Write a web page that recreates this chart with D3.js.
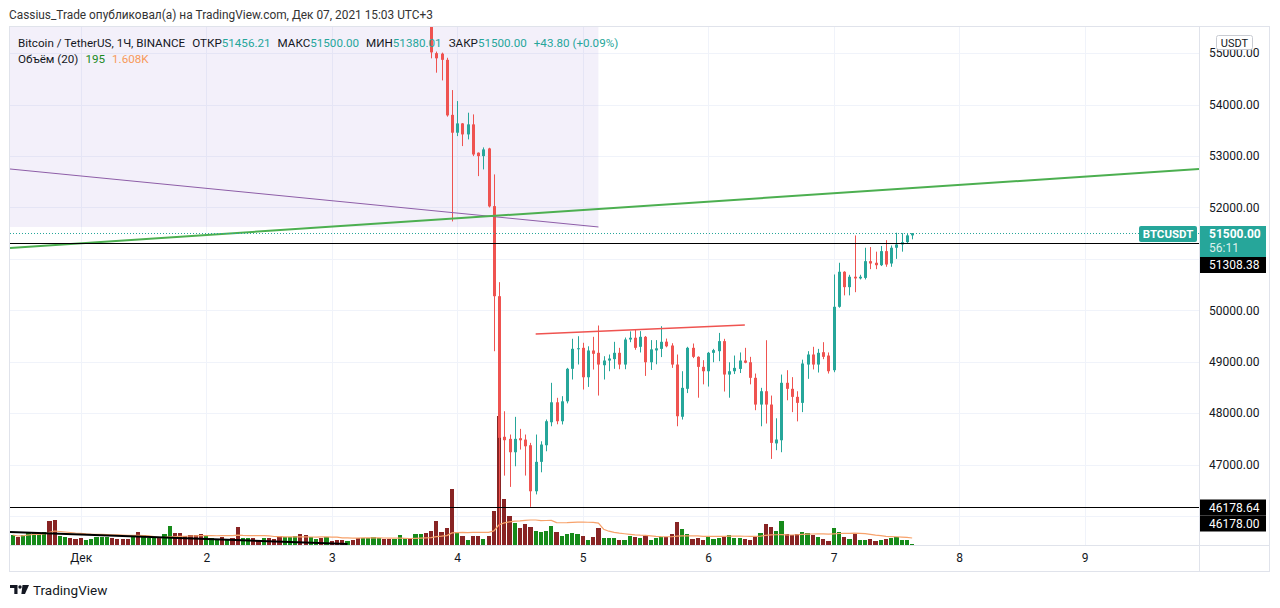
<!DOCTYPE html>
<html>
<head>
<meta charset="utf-8">
<script src="https://cdn.jsdelivr.net/npm/d3@7"></script>
<style>
  body { margin: 0; background: #fff; }
  svg { display: block; font-family: Roboto, "Liberation Sans", sans-serif; }
</style>
</head>
<body>
<svg id="chart" width="1280" height="608"></svg>
<script>
// hourly bars, first bar Nov 30 11:00 (chart time UTC+3, kept as plain UTC here)
const firstBar = Date.UTC(2021, 10, 30, 11);
const HOUR = 3600e3;

// volume per bar (BTC), index 0 .. 172
const volumes = [
  2150,1730,2120,2590,2810,2370,2780,5150,5390,1940, 1710,1520,1300,1480,1090,1310,1700,1740,1720,1500,
  1280,1310,1270,1730,2800,2160,1510,1490,1520,2380, 4090,2570,2600,1930,2140,2170,2360,1950,1490,1070,
  1710,1300,1500,3880,1510,1480,1520,1080,1500,1490, 1290,1940,1720,1700,1950,2370,2150,1730,1280,1510,
  1720,870,1060,1090,850,1080,1500,1520,1490,1710, 1500,1300,1280,1310,2140,1510,1490,2360,2390,2580,
  3010,5170,2790,3660,12040,2800,1930,1080,1950,1920, 1290,1940,7310,27740,9890,6240,4730,3650,4520,3870,
  3010,2790,3020,4080,2800,1930,2370,2580,2360,1940, 1070,1720,3660,1500,1510,1490,1080,1070,1940,1720,
  1500,1930,1090,1500,1710,1730,2370,4950,3440,2360, 1290,1510,1080,1720,1300,1500,1720,2150,1510,1490,
  1290,1080,1710,2580,4510,3880,3000,5160,2370,2150, 2360,2800,2570,2160,1720,1290,870,3660,2790,1720,
  1300,2370,1080,1070,1290,860,1080,1300,1500,1720, 1080,1070,195
];

// direction of the bars whose candles sit above the visible price range (index 0 .. 79)
const hiddenDir = ("uduuuuuddu" + "uddduuuuud" + "ddduduuudu" + "udddddduuu" +
                   "dudduuddud" + "dduuudduud" + "udddudduuu" + "udduuuduud").split("");

// visible candles [open, high, low, close], starting at bar index 80
const candleStart = 80;
const candles = [
  [55750,55900,54899,55015],[55000,55030,54620,54900],[54990,55010,54470,54870],[54870,54910,53765,53790],
  [53800,54282,51728,53453],[53453,54068,53387,53634],[53634,53640,53193,53420],[53420,53842,53323,53615],
  [53615,53809,52998,53030],[53064,53070,52609,52998],[52998,53167,52739,53128],[53147,53160,52000,52020],
  [52025,52642,49204,50274],[50274,50547,42000,47520],[47540,48037,46785,47474],[47500,47584,46566,47240],
  [47240,47928,46967,47500],[47512,47694,47292,47473],[47486,47584,46786,47356],[47376,47422,46178,46481],
  [46481,47584,46420,47053],[47053,47453,46850,47389],[47376,47876,47259,47843],[47823,48590,47745,48211],
  [48211,48298,47784,47843],[47843,48330,47780,48230],[48230,48880,48190,48862],[48862,49446,48654,49251],
  [49251,49496,48946,49262],[49270,49368,48459,48698],[48698,49300,48510,49218],[49218,49484,48848,49154],
  [49173,49704,48342,48945],[48932,49107,48654,49023],[49023,49140,48815,49062],[49050,49387,48862,49173],
  [49173,49270,48854,48945],[48945,49470,48854,49432],[49432,49590,49380,49466],[49466,49630,49232,49270],
  [49290,49595,49180,49484],[49484,49500,48724,48990],[48990,49420,48840,49240],[49220,49420,48950,49260],
  [49250,49690,49090,49387],[49390,49450,49280,49300],[49315,49360,48880,48945],[48945,49140,47745,47940],
  [47930,48815,47875,48492],[48473,49290,48390,49270],[49270,49354,49070,49095],[49095,49105,48300,48900],
  [48900,49030,48560,48815],[48815,49190,48517,49173],[49173,49250,48990,49225],[49205,49560,49010,49400],
  [49400,49445,48420,48751],[48750,48990,48300,48815],[48815,49120,48760,48880],[48860,49180,48780,49023],
  [49023,49270,48970,48980],[48990,49095,48560,48687],[48687,48770,48057,48167],[48167,48492,47745,48426],
  [48426,49418,47798,48167],[48167,48342,47110,47422],[47412,47900,47280,47487],[47473,48750,47240,48590],
  [48590,48835,48250,48473],[48473,48700,48020,48317],[48317,48426,47840,48200],[48200,49040,48020,48965],
  [48945,49205,48667,49140],[49140,49290,48850,48945],[48945,49250,48790,49173],[49185,49380,49050,49095],
  [49120,49180,48770,48815],[48835,50696,48796,50068],[50068,50924,50050,50749],[50749,50760,50290,50450],
  [50450,50690,50290,50652],[50652,51455,50352,50620],[50620,50690,50600,50652],[50630,51216,50600,50955],
  [50955,51230,50800,50910],[50924,51140,50800,50877],[50877,51250,50860,51150],[51150,51364,50846,50890],
  [50910,51260,50846,51216],[51216,51508,51000,51280],[51280,51500,51140,51325],[51325,51500,51300,51456.21],
  [51456.21,51500,51380.01,51500]
];

// horizontal levels and the last price
const levels = [51308.38, 46178.64];
const lowTag = 46178.00;
const lastPrice = 51500;

// drawings: [time, price] anchors
const greenTrend  = [[Date.UTC(2021, 11, 1, 0), 51303], [Date.UTC(2021, 11, 9, 0), 52600]];
const purpleTrend = [[Date.UTC(2021, 10, 30, 12), 52732], [Date.UTC(2021, 11, 5, 3), 51620]];
const redTrend    = [[Date.UTC(2021, 11, 4, 15), 49539], [Date.UTC(2021, 11, 6, 7), 49714]];
const volTrend    = [[Date.UTC(2021, 10, 30, 11), 45687], [Date.UTC(2021, 11, 3, 3), 45456]];
const shadeBox    = [[Date.UTC(2021, 10, 30, 9), 56500], [Date.UTC(2021, 11, 5, 3), 51620]];

const monthLabel = "Дек";
const titleText = "Cassius_Trade опубликовал(а) на TradingView.com, Дек 07, 2021 15:03 UTC+3";
// [text, gap before, colour]
const legendParts = [
  ["Bitcoin / TetherUS, 1Ч, BINANCE", 0, "#131722"],
  ["ОТКР", 7, "#131722"], ["51456.21", 0, "#26a69a"],
  ["МАКС", 7, "#131722"], ["51500.00", 0, "#26a69a"],
  ["МИН", 7, "#131722"], ["51380.01", 0, "#26a69a"],
  ["ЗАКР", 7, "#131722"], ["51500.00", 0, "#26a69a"],
  ["+43.80 (+0.09%)", 7, "#26a69a"]
];
const volLegendParts = [
  ["Объём (20)", 0, "#131722"], ["195", 7, "#1b8a1e"], ["1.608K", 7, "#f79a5a"]
];

const upColor = "#26a69a", downColor = "#ef5350";
const volUp = "#168a1a", volDown = "#882424";

const svg = d3.select("#chart");
const pane = {left: 10, right: 1199, top: 27, bottom: 545};

const x = d3.scaleUtc()
  .domain([firstBar, Date.UTC(2021, 11, 9)])
  .range([12.8, 1084.7]);
const y = d3.scaleLinear()
  .domain([46000, 55000])
  .range([516.0, 53.15]);
const yVol = d3.scaleLinear()
  .domain([0, d3.max(volumes)])
  .range([pane.bottom, 416]);

const barTime = i => new Date(firstBar + i * HOUR);
const isUp = i => i < candleStart ? hiddenDir[i] === "u"
                                  : candles[i - candleStart][3] >= candles[i - candleStart][0];

svg.append("rect").attr("width", 1280).attr("height", 608).attr("fill", "#fff");

svg.append("defs").append("clipPath").attr("id", "pane")
  .append("rect")
  .attr("x", pane.left).attr("y", pane.top)
  .attr("width", pane.right - pane.left).attr("height", pane.bottom - pane.top);

let plot = svg.append("g").attr("clip-path", "url(#pane)");

// grid
let dayTicks = d3.utcDay.range(Date.UTC(2021, 11, 1), Date.UTC(2021, 11, 9, 1));
let priceTicks = y.ticks(9);
plot.selectAll(".vgrid").data(dayTicks).join("line")
  .attr("x1", d => Math.round(x(d)) + 0.5).attr("x2", d => Math.round(x(d)) + 0.5)
  .attr("y1", pane.top).attr("y2", pane.bottom)
  .attr("stroke", "#f0f3fa");
plot.selectAll(".hgrid").data(priceTicks).join("line")
  .attr("x1", pane.left).attr("x2", pane.right)
  .attr("y1", d => Math.round(y(d)) + 0.5).attr("y2", d => Math.round(y(d)) + 0.5)
  .attr("stroke", "#f0f3fa");

// shaded box drawing
plot.append("rect")
  .attr("x", x(shadeBox[0][0])).attr("y", y(shadeBox[0][1]))
  .attr("width", x(shadeBox[1][0]) - x(shadeBox[0][0]))
  .attr("height", y(shadeBox[1][1]) - y(shadeBox[0][1]))
  .attr("fill", "#9575cd").attr("fill-opacity", 0.11);

// volume
plot.selectAll(".vol").data(volumes).join("rect")
  .attr("x", (d, i) => x(barTime(i)) - 2.1)
  .attr("width", 4.2)
  .attr("y", d => yVol(d))
  .attr("height", d => Math.max(1, pane.bottom - yVol(d)))
  .attr("fill", (d, i) => isUp(i) ? volUp : volDown)
  .attr("shape-rendering", "crispEdges");

let volMA = volumes.map((v, i) => d3.mean(volumes.slice(Math.max(0, i - 19), i + 1)));
plot.append("path")
  .attr("d", d3.line().x((d, i) => x(barTime(i))).y(d => yVol(d))(volMA))
  .attr("fill", "none").attr("stroke", "#f7a26b").attr("stroke-width", 1.2);

// candles
let cg = plot.selectAll(".candle").data(candles).join("g");
cg.append("line")
  .attr("x1", (d, i) => Math.round(x(barTime(i + candleStart))) + 0.5)
  .attr("x2", (d, i) => Math.round(x(barTime(i + candleStart))) + 0.5)
  .attr("y1", d => y(d[1])).attr("y2", d => y(d[2]))
  .attr("stroke", d => d[3] >= d[0] ? upColor : downColor);
cg.append("rect")
  .attr("x", (d, i) => Math.round(x(barTime(i + candleStart))) - 1)
  .attr("width", 3)
  .attr("y", d => y(Math.max(d[0], d[3])))
  .attr("height", d => Math.max(1, Math.abs(y(d[0]) - y(d[3]))))
  .attr("fill", d => d[3] >= d[0] ? upColor : downColor);

// drawings
function pt(a) { return [x(a[0]), y(a[1])]; }
function atX(a, b, px) {
  let p = pt(a), q = pt(b);
  return [px, p[1] + (q[1] - p[1]) * (px - p[0]) / (q[0] - p[0])];
}
let line = d3.line();
plot.append("path")
  .attr("d", line([atX(purpleTrend[0], purpleTrend[1], pane.left), pt(purpleTrend[1])]))
  .attr("stroke", "#8e5ea8").attr("stroke-width", 1).attr("fill", "none");
plot.append("path")
  .attr("d", line([atX(greenTrend[0], greenTrend[1], pane.left), atX(greenTrend[0], greenTrend[1], pane.right)]))
  .attr("stroke", "#4caf50").attr("stroke-width", 2).attr("fill", "none");
plot.append("path")
  .attr("d", line([pt(redTrend[0]), pt(redTrend[1])]))
  .attr("stroke", "#ef5350").attr("stroke-width", 1.5).attr("fill", "none");
plot.append("path")
  .attr("d", line([atX(volTrend[0], volTrend[1], pane.left), pt(volTrend[1])]))
  .attr("stroke", "#000").attr("stroke-width", 2).attr("fill", "none");

plot.selectAll(".level").data(levels).join("line")
  .attr("x1", pane.left).attr("x2", pane.right)
  .attr("y1", d => Math.round(y(d)) + 0.5).attr("y2", d => Math.round(y(d)) + 0.5)
  .attr("stroke", "#000").attr("stroke-width", 1);

plot.append("line")
  .attr("x1", pane.left).attr("x2", pane.right)
  .attr("y1", Math.round(y(lastPrice)) + 0.5).attr("y2", Math.round(y(lastPrice)) + 0.5)
  .attr("stroke", upColor).attr("stroke-dasharray", "1,2");

// frame
let frame = svg.append("g").attr("stroke", "#e0e3eb").attr("fill", "none");
frame.append("rect").attr("x", 9.5).attr("y", 26.5).attr("width", 1260).attr("height", 545);
frame.append("line").attr("x1", 1199.5).attr("x2", 1199.5).attr("y1", 26.5).attr("y2", 571.5);
frame.append("line").attr("x1", 9.5).attr("x2", 1269.5).attr("y1", 545.5).attr("y2", 545.5);

// price axis (labels hidden under the price tags are left out, as on the screen)
let tagPrices = [lastPrice, levels[0], levels[1], lowTag];
let axisTicks = priceTicks.filter(t => tagPrices.every(p => Math.abs(y(t) - y(p)) > 20));
let yAxis = svg.append("g")
  .attr("transform", "translate(1199,0)")
  .call(d3.axisRight(y).tickValues(axisTicks).tickSize(0).tickPadding(10).tickFormat(d3.format(".2f")));
yAxis.select(".domain").remove();
yAxis.selectAll("text").attr("font-size", 12).attr("fill", "#131722").attr("font-family", "Roboto, sans-serif");

// time axis
let xAxis = svg.append("g")
  .attr("transform", "translate(0,545)")
  .call(d3.axisBottom(x).tickValues(dayTicks).tickSize(0).tickPadding(8)
    .tickFormat(d => d.getUTCDate() === 1 ? monthLabel : d.getUTCDate()));
xAxis.select(".domain").remove();
xAxis.selectAll("text").attr("font-size", 12).attr("fill", "#131722").attr("font-family", "Roboto, sans-serif");

// price tags
let tags = svg.append("g").attr("font-size", 12);
tags.append("rect").attr("x", 1139).attr("y", 226).attr("width", 58).attr("height", 16).attr("rx", 2).attr("fill", upColor);
tags.append("text").attr("x", 1168).attr("y", 238).attr("text-anchor", "middle")
  .attr("fill", "#fff").attr("font-weight", "bold").attr("font-size", 11.5).text("BTCUSDT");
tags.append("rect").attr("x", 1200).attr("y", 226).attr("width", 66).attr("height", 31).attr("fill", upColor);
tags.append("text").attr("x", 1209).attr("y", 238).attr("fill", "#fff").attr("font-weight", "bold").text(d3.format(".2f")(lastPrice));
tags.append("text").attr("x", 1209).attr("y", 252).attr("fill", "#fff").attr("fill-opacity", 0.85).text("56:11");

let blackTags = [[levels[0], 257], [levels[1], 499.5], [lowTag, 515.5]];
blackTags.forEach(t => {
  tags.append("rect").attr("x", 1200).attr("y", t[1]).attr("width", 66).attr("height", 16).attr("fill", "#000");
  tags.append("text").attr("x", 1209).attr("y", t[1] + 12).attr("fill", "#fff").text(d3.format(".2f")(t[0]));
});

tags.append("rect").attr("x", 1216.5).attr("y", 35.5).attr("width", 36).attr("height", 14).attr("rx", 2)
  .attr("fill", "#fff").attr("stroke", "#c9ccd3");
tags.append("text").attr("x", 1234.5).attr("y", 46.5).attr("text-anchor", "middle")
  .attr("font-size", 11).attr("fill", "#131722").text("USDT");

// title and legend, sized to the widths they take on the screenshot
function fitText(sel, fromX, toX, gaps) {
  let w = sel.node().getComputedTextLength();
  let fs = parseFloat(sel.attr("font-size"));
  sel.attr("font-size", fs * (toX - fromX - gaps) / w);
}
let title = svg.append("text").attr("x", 9).attr("y", 19).attr("font-size", 12).attr("fill", "#333").text(titleText);
fitText(title, 9, 433, 0);

let leg = svg.append("text").attr("x", 18).attr("y", 47).attr("font-size", 12);
leg.selectAll("tspan").data(legendParts).join("tspan")
  .attr("dx", d => d[1]).attr("fill", d => d[2]).text(d => d[0]);
fitText(leg, 18, 619, d3.sum(legendParts, d => d[1]));
let leg2 = svg.append("text").attr("x", 18).attr("y", 63).attr("font-size", leg.attr("font-size"));
leg2.selectAll("tspan").data(volLegendParts).join("tspan")
  .attr("dx", d => d[1]).attr("fill", d => d[2]).text(d => d[0]);

// TradingView logo
let logo = svg.append("g").attr("fill", "#131722");
logo.append("path").attr("d", "M10,585h7.5v9h-3.2v-6h-4.3z");
logo.append("circle").attr("cx", 20).attr("cy", 587).attr("r", 1.7);
logo.append("path").attr("d", "M22.5,585h6.5l-4,9h-3.6z");
logo.append("text").attr("x", 33).attr("y", 595).attr("font-size", 13.5).text("TradingView");
</script>
</body>
</html>
